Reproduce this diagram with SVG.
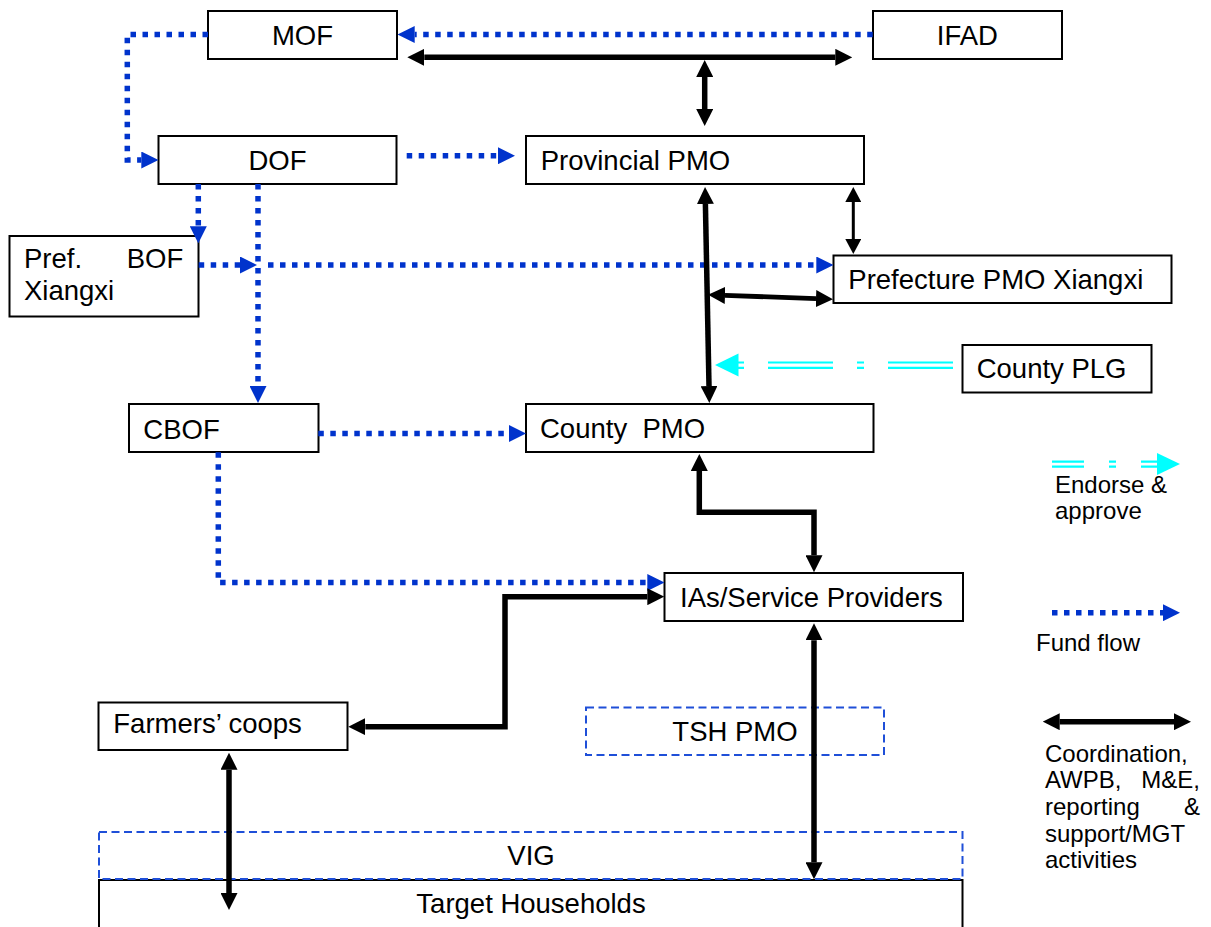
<svg xmlns="http://www.w3.org/2000/svg" width="1211" height="927" viewBox="0 0 1211 927">
<style>
.box{fill:#fff;stroke:#000;stroke-width:2}
.dbox{fill:none;stroke:#1f4fd8;stroke-width:2;stroke-dasharray:8 4.5}
.t{font-family:"Liberation Sans",Arial,sans-serif;font-size:27.5px;fill:#000}
.lt{font-family:"Liberation Sans",Arial,sans-serif;font-size:24px;fill:#000}
.fund{fill:none;stroke:#0033cc;stroke-width:5.5;stroke-dasharray:5.5 6.5;marker-end:url(#bh)}
.coord{fill:none;stroke:#000;stroke-width:5.5;marker-start:url(#kh);marker-end:url(#kh)}
.cy{fill:none;stroke:#00ffff;stroke-width:2.2}
</style>
<defs>
<marker id="bh" markerUnits="userSpaceOnUse" viewBox="0 0 17 17" markerWidth="17" markerHeight="17" refX="0" refY="8.5" orient="auto"><path d="M0,0 L17,8.5 L0,17 z" fill="#0033cc"/></marker>
<marker id="kh" markerUnits="userSpaceOnUse" viewBox="0 0 17 17" markerWidth="17" markerHeight="17" refX="0" refY="8.5" orient="auto-start-reverse"><path d="M0,0 L17,8.5 L0,17 z" fill="#000"/></marker>
<marker id="kt" markerUnits="userSpaceOnUse" viewBox="0 0 15 16" markerWidth="15" markerHeight="16" refX="0" refY="8" orient="auto-start-reverse"><path d="M0,0 L15,8 L0,16 z" fill="#000"/></marker>
</defs>

<g id="node-mof"><rect class="box" x="208" y="11" width="189" height="48"/><text class="t" x="302.5" y="44.7" text-anchor="middle">MOF</text></g>
<g id="node-ifad"><rect class="box" x="873" y="11" width="189" height="48"/><text class="t" x="967.4" y="44.7" text-anchor="middle">IFAD</text></g>
<g id="node-dof"><rect class="box" x="158.5" y="136" width="238" height="48"/><text class="t" x="277.5" y="170" text-anchor="middle">DOF</text></g>
<g id="node-provincial-pmo"><rect class="box" x="526" y="136" width="338" height="48"/><text class="t" x="540.7" y="170">Provincial PMO</text></g>
<g id="node-pref-bof"><rect class="box" x="9.5" y="236" width="189" height="80.5"/><text class="t" x="24" y="268.3">Pref.</text><text class="t" x="183.3" y="268.3" text-anchor="end">BOF</text><text class="t" x="24" y="300">Xiangxi</text></g>
<g id="node-prefecture-pmo"><rect class="box" x="833.5" y="255.5" width="338" height="47.5"/><text class="t" x="848.3" y="289">Prefecture PMO Xiangxi</text></g>
<g id="node-county-plg"><rect class="box" x="962.5" y="345" width="189" height="47.5"/><text class="t" x="976.7" y="377.7">County PLG</text></g>
<g id="node-cbof"><rect class="box" x="129" y="404" width="189.5" height="48"/><text class="t" x="143.3" y="439">CBOF</text></g>
<g id="node-county-pmo"><rect class="box" x="526" y="404" width="347.5" height="48"/><text class="t" x="540" y="438" xml:space="preserve">County  PMO</text></g>
<g id="node-ias"><rect class="box" x="664.5" y="573" width="298.5" height="48"/><text class="t" x="680" y="606.7">IAs/Service Providers</text></g>
<g id="node-farmers-coops"><rect class="box" x="98.5" y="702.5" width="249" height="47.5"/><text class="t" x="113.3" y="733.3">Farmers’ coops</text></g>
<g id="node-tsh-pmo"><rect class="dbox" x="586" y="707.5" width="298" height="47.5"/><text class="t" x="735" y="740.7" text-anchor="middle">TSH PMO</text></g>
<g id="node-target-households"><rect class="box" x="99" y="880" width="863.5" height="70"/><text class="t" x="531" y="913" text-anchor="middle">Target Households</text></g>
<g id="node-vig"><rect class="dbox" x="99" y="832" width="863.5" height="47"/><text class="t" x="531" y="865" text-anchor="middle">VIG</text></g>

<g id="connectors">
<path class="fund" d="M872.7,34.5 L414.7,34.5"/>
<path class="fund" d="M208,34.5 L127.3,34.5 L127.3,160 L141.3,160"/>
<path class="fund" d="M406.7,155.7 L498,155.7"/>
<path class="fund" d="M198.3,184 L198.3,226.3"/>
<path class="fund" d="M258,184 L258,386"/>
<path class="fund" d="M198.7,265 L240,265"/>
<path class="fund" d="M268,265 L816.3,265"/>
<path class="fund" d="M318.3,433.5 L509,433.5"/>
<path class="fund" d="M218.3,452.3 L218.3,582.5 L647.3,582.5"/>

<path class="coord" d="M424.3,57.3 L835.3,57.3"/>
<path class="coord" d="M704.7,77 L704.7,109"/>
<path class="coord" d="M705.4,204 L709,386"/>
<path class="coord" d="M725,295.4 L816,298.6" style="stroke-width:4.8"/>
<path fill="none" stroke="#000" stroke-width="3" d="M853.3,202 L853.3,239" marker-start="url(#kt)" marker-end="url(#kt)"/>
<path class="coord" d="M699.3,471 L699.3,512.3 L814,512.3 L814,555.3"/>
<path class="coord" d="M814,640.3 L814,862.3"/>
<path class="coord" d="M647.3,596.7 L505,596.7 L505,726.7 L365.3,726.7"/>
<path class="coord" d="M229,769.7 L229,893"/>

<g id="plg-endorse">
<path class="cy" d="M953,362.5 L738,362.5" stroke-dasharray="65 24 7 24"/>
<path class="cy" d="M953,367.8 L738,367.8" stroke-dasharray="65 24 7 24"/>
<path d="M715,365 L738.5,353.5 L738.5,376.5 z" fill="#00ffff"/>
</g>
</g>

<g id="legend">
<path class="cy" d="M1052,461.6 L1157,461.6" stroke-dasharray="32 25 7 25"/>
<path class="cy" d="M1052,466.6 L1157,466.6" stroke-dasharray="32 25 7 25"/>
<path d="M1180,464 L1157,453 L1157,475 z" fill="#00ffff"/>
<text class="lt" x="1055" y="492.5">Endorse &amp;</text>
<text class="lt" x="1055" y="519">approve</text>
<path class="fund" d="M1052,612.7 L1163,612.7"/>
<text class="lt" x="1036" y="650.7">Fund flow</text>
<path class="coord" d="M1059.7,721.7 L1174,721.7"/>
<text class="lt" x="1045" y="761.7">Coordination,</text>
<text class="lt" x="1045" y="788.4">AWPB,</text>
<text class="lt" x="1200" y="788.4" text-anchor="end">M&amp;E,</text>
<text class="lt" x="1045" y="815">reporting</text>
<text class="lt" x="1200" y="815" text-anchor="end">&amp;</text>
<text class="lt" x="1045" y="841.7">support/MGT</text>
<text class="lt" x="1045" y="868.4">activities</text>
</g>
</svg>
